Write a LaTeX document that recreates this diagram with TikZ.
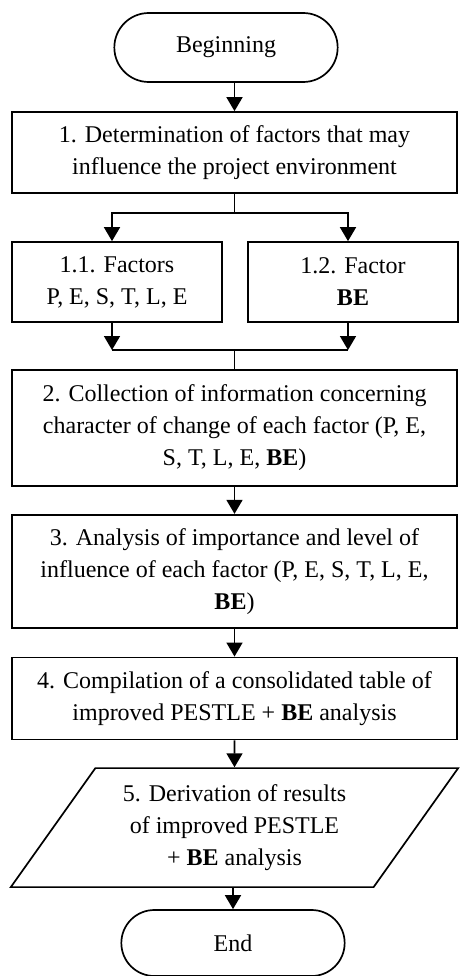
\documentclass[tikz,border=0pt]{standalone}
\usepackage{fontspec}
\setmainfont{Liberation Serif}
\usetikzlibrary{positioning,shapes.misc,shapes.geometric,arrows.meta}

\begin{document}
\begin{tikzpicture}[x=1pt, y=1pt, node distance={28pt}, line width=1.7pt,
        >={Triangle[length=14pt,width=16pt]},
        main/.style = {rectangle, draw, align=center, minimum width=445pt, font=\fontsize{24}{32}\selectfont},
        term/.style = {rounded rectangle, draw, minimum width=230pt, font=\fontsize{24}{32}\selectfont},
        io/.style = {trapezium, draw, trapezium left angle=53, trapezium right angle=127, trapezium stretches=true,
                     align=center, minimum width=448pt, minimum height=119pt, font=\fontsize{24}{32}\selectfont}]
        \useasboundingbox (0,0) rectangle (459,-976);

        \node[term, minimum height=69pt] (begin) at (226,-47.5) {Beginning};
        \node[main, minimum height=81pt] (det) at (234.5,-152.5) {1. Determination of factors that may\\influence the project environment};
        \node[main, minimum width=210pt, minimum height=80pt] (fac1) at (117,-282) {1.1. Factors\\P, E, S, T, L, E};
        \node[main, minimum width=210pt, minimum height=80pt] (fac2) at (353,-282) {1.2. Factor\\\textbf{BE}};
        \node[main, minimum height=116pt] (coll) at (234.5,-428) {2. Collection of information concerning\\character of change of each factor (P, E,\\S, T, L, E, \textbf{BE})};
        \node[main, minimum height=113pt] (anal) [below=27pt of coll] {3. Analysis of importance and level of\\influence of each factor (P, E, S, T, L, E,\\\textbf{BE})};
        \node[main, minimum height=82pt] (comp) [below=28pt of anal] {4. Compilation of a consolidated table of\\improved PESTLE + \textbf{BE} analysis};
        \node[io] (deriv) [below=27pt of comp] {5. Derivation of results\\of improved PESTLE\\+ \textbf{BE} analysis};
        \node[term, minimum height=66pt] (finish) at (233,-943) {End};

        \coordinate (splitL) at (112,-213);
        \coordinate (splitR) at (348,-213);
        \coordinate (joinL) at (112,-350);
        \coordinate (joinR) at (348,-350);

        \draw[->] (begin.south -| det.north) -- (det.north);

        \draw[->] (det.south) |- (splitL) -- (splitL |- fac1.north);
        \draw[->] (det.south) |- (splitR) -- (splitR |- fac2.north);

        \draw[->] (fac1.south -| joinL) -- (joinL);
        \draw[->] (fac2.south -| joinR) -- (joinR);
        \draw (joinL) -- (joinR);
        \draw (coll.north |- joinL) -- (coll.north);

        \draw[->] (coll) -- (anal);
        \draw[->] (anal) -- (comp);
        \draw[->] (comp) -- (deriv);
        \draw[->] (deriv.south -| finish.north) -- (finish.north);
    \end{tikzpicture}
\end{document}
